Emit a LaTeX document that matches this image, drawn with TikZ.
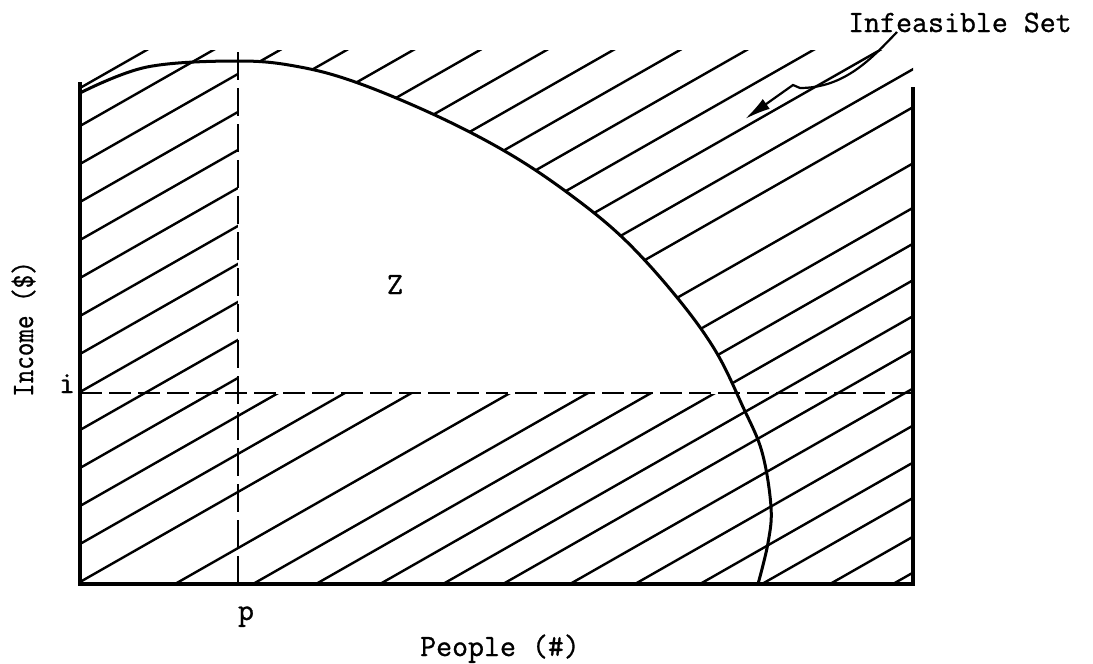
\documentclass[tikz,border=0pt]{standalone}
\usepackage{fontspec}
\usepackage{graphicx}
\newfontfamily\typewriter[FakeBold=0.9]{Latin Modern Mono}
\usetikzlibrary{arrows.meta}
\begin{document}
\begin{tikzpicture}[x=1pt,y=-1pt,
  hatch/.style={line width=2.4pt, black},
  frameline/.style={line width=3.4pt, line join=miter},
  boundary/.style={line width=3pt},
  dashv/.style={line width=2.8pt, dash pattern=on 28pt off 8pt},
  dashh/.style={line width=2.8pt, dash pattern=on 22pt off 7pt},
  lbl/.style={font=\typewriter\fontsize{31}{36}\selectfont, inner sep=0pt},
  pointer/.style={line width=2.2pt, -{Latex[length=26pt,width=12pt]}}]
\useasboundingbox (0,0) rectangle (1093,664);

% hatching
\begin{scope}
  \clip (80,50) rectangle (913,584);
  \foreach \k in {0,...,13} {
    \draw[hatch] (80,{582-38*\k}) -- ++(1000,-570);
  }
  \foreach \xb in {175,253,316,380,443,503,570,635,700,762,830,893} {
    \draw[hatch] (\xb,584) -- ++(1000,-570);
  }
\end{scope}

% clear the feasible region Z
\begin{scope}
  \clip (238,0) rectangle (913,393);
  \fill[white] plot[smooth, tension=0.6] coordinates {(80,93) (147,67) (240,61) (300,67) (358,83) (437,116) (508,153) (568,193) (623,238) (675,295) (715,350) (743,407) (762,452) (771,507) (768,543) (758,584)} -- (80,584) -- cycle;
\end{scope}

% dashed lines
\coordinate (ptop) at (238,52);
\coordinate (pbot) at (238,582);
\coordinate (ileft) at (80,393);
\coordinate (iright) at (913,393);
\draw[dashv] (ptop) -- (pbot);
\draw[dashh] (ileft) -- (iright);

% boundary curve
\draw[boundary] plot[smooth, tension=0.6] coordinates {(80,93) (147,67) (240,61) (300,67) (358,83) (437,116) (508,153) (568,193) (623,238) (675,295) (715,350) (743,407) (762,452) (771,507) (768,543) (758,584)};

% frame
\coordinate (ftl) at (80,82);
\coordinate (fbl) at (80,584);
\coordinate (fbr) at (913,584);
\coordinate (ftr) at (913,87);
\draw[frameline] (ftl) -- (fbl) -- (fbr) -- (ftr);

% labels
\node[lbl, anchor=base west] (infeas) at (848,32) {Infeasible Set};
\node[lbl, anchor=base] (ilbl) at (67,393) {i};
\node[lbl, anchor=base] (plbl) at (246,620) {p};
\node[lbl, anchor=base] (xlabel) at (500,656) {People (\#)};
\node[lbl, anchor=base] (zlbl) at (395,294) {Z};
\node[lbl, anchor=base, rotate=90] (ylabel) at (33,329) {\scalebox{0.85}[1]{Income (\$)}};

% pointer
\coordinate (arrowstart) at (897,32);
\coordinate (arrowtip) at (745,119);
\draw[pointer] (arrowstart) .. controls (872,58) and (845,88) .. (800,88) -- (793,85) -- (arrowtip);
\end{tikzpicture}
\end{document}
